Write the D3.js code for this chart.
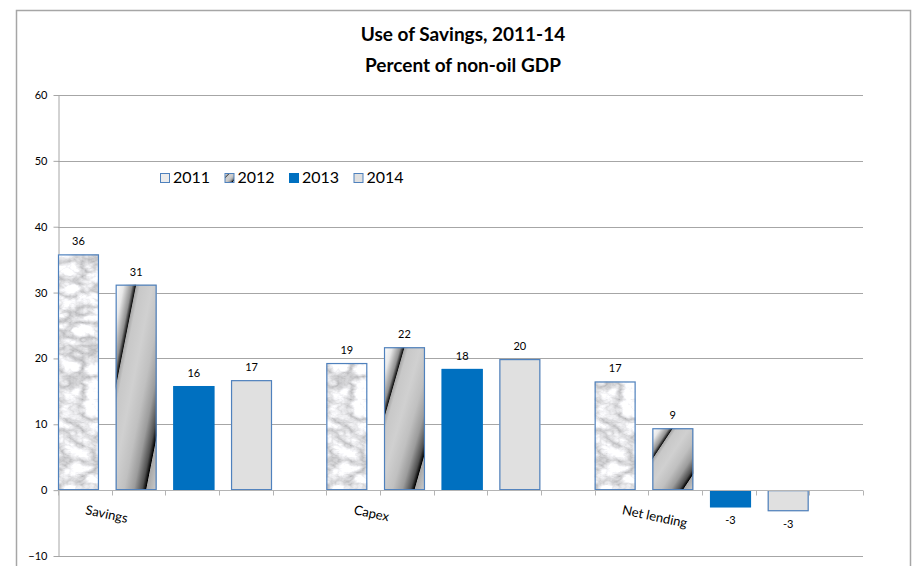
<!DOCTYPE html>
<html>
<head>
<meta charset="utf-8">
<script src="https://cdn.jsdelivr.net/npm/d3@7"></script>
<style>
  body { margin: 0; background: #fff; }
  svg { display: block; font-family: Lato, "Open Sans", sans-serif; }
</style>
</head>
<body>
<svg id="canvas" width="913" height="566"></svg>
<script>
let years = ['2011', '2012', '2013', '2014'];
let categories = ['Savings', 'Capex', 'Net lending'];
let values2011 = [35.8, 19.3, 16.5];
let values2012 = [31.2, 21.7, 9.4];
let values2013 = [15.8, 18.4, -2.6];
let values2014 = [16.7, 19.9, -3.2];
let yTicks = [-10, 0, 10, 20, 30, 40, 50, 60];

let series = [values2011, values2012, values2013, values2014];

let canvas = d3.select('#canvas');
let defs = canvas.append('defs');

// marble look for 2011
let marble = defs.append('filter')
    .attr('id', 'marble')
    .attr('x', 0).attr('y', 0).attr('width', 1).attr('height', 1)
    .attr('color-interpolation-filters', 'sRGB');
marble.append('feTurbulence')
    .attr('type', 'turbulence')
    .attr('baseFrequency', '0.04 0.065')
    .attr('numOctaves', 4)
    .attr('seed', 3)
    .attr('result', 'noise');
marble.append('feColorMatrix')
    .attr('in', 'noise')
    .attr('type', 'matrix')
    .attr('values', '0.6 0 0 0 0.71  0.6 0 0 0 0.71  0.6 0 0 0 0.72  0 0 0 0 1')
    .attr('result', 'grey');
marble.append('feComposite')
    .attr('in', 'grey')
    .attr('in2', 'SourceGraphic')
    .attr('operator', 'in');

// stretched diagonal gradient for 2012
let stripes = defs.append('linearGradient')
    .attr('id', 'stripes')
    .attr('x1', 0).attr('y1', 0).attr('x2', 1).attr('y2', 1);
[[0, '#ffffff'], [0.1, '#e8e8e8'], [0.2, '#909090'], [0.245, '#101010'],
 [0.255, '#a8a8a8'], [0.3, '#c8c8c8'], [0.45, '#d0d0d0'], [0.6, '#c0c0c0'],
 [0.72, '#9c9c9c'], [0.82, '#505050'], [0.865, '#000000'], [0.875, '#a8a8a8'],
 [1, '#cccccc']].forEach(s => {
    stripes.append('stop').attr('offset', s[0]).attr('stop-color', s[1]);
});

let fills = ['#ffffff', 'url(#stripes)', '#0070c0', '#e0e0e0'];
let borders = ['#4f81bd', '#4f81bd', '#0070c0', '#4f81bd'];

// outer frame
canvas.append('path')
    .attr('d', 'M16.5,570 V10.5 H910.5 V570')
    .attr('fill', 'none')
    .attr('stroke', '#a6a6a6')
    .attr('stroke-width', 1.5);

let left = 58, right = 863;

let yScale = d3.scaleLinear().domain([-10, 60]).range([556, 95]);

// 5 slots per category on the axis
let slots = d3.scaleBand()
    .domain(d3.range(categories.length * 5))
    .range([left, right]);

let inner = d3.scaleBand()
    .domain(years)
    .range([0, 214])
    .paddingInner(0.29)
    .paddingOuter(0);

// gridlines
canvas.append('g')
    .selectAll('line')
    .data(yTicks.filter(t => t !== 0))
    .enter()
    .append('line')
    .attr('x1', left).attr('x2', right)
    .attr('y1', t => Math.round(yScale(t)) + 0.5)
    .attr('y2', t => Math.round(yScale(t)) + 0.5)
    .attr('stroke', '#a6a6a6');

// y axis
let yAxis = d3.axisLeft(yScale).tickValues(yTicks).tickSize(5).tickSizeOuter(0);
let yAxisG = canvas.append('g')
    .attr('transform', 'translate(' + (left + 0.5) + ',0)')
    .call(yAxis);
yAxisG.select('.domain').attr('stroke', '#a6a6a6');
yAxisG.selectAll('.tick line').attr('stroke', '#a6a6a6');
yAxisG.selectAll('.tick text')
    .attr('x', -11)
    .style('font-family', 'Lato')
    .style('font-size', '11px')
    .attr('fill', '#000');

// bars
let groups = canvas.append('g')
    .selectAll('g')
    .data(categories)
    .enter()
    .append('g')
    .attr('transform', (c, i) => 'translate(' + slots(i * 5) + ',0)');

let bars = groups.selectAll('g')
    .data((c, i) => years.map((yr, j) => ({ year: yr, idx: j, value: series[j][i] })))
    .enter()
    .append('g');

bars.append('rect')
    .attr('x', d => inner(d.year))
    .attr('y', d => yScale(Math.max(0, d.value)))
    .attr('width', inner.bandwidth())
    .attr('height', d => Math.abs(yScale(d.value) - yScale(0)))
    .attr('fill', d => fills[d.idx])
    .attr('filter', d => d.idx === 0 ? 'url(#marble)' : null);

bars.append('rect')
    .attr('x', d => inner(d.year) + 0.5)
    .attr('y', d => yScale(Math.max(0, d.value)) + 0.5)
    .attr('width', inner.bandwidth() - 1)
    .attr('height', d => Math.abs(yScale(d.value) - yScale(0)) - 1)
    .attr('fill', 'none')
    .attr('stroke', d => borders[d.idx])
    .attr('stroke-width', 1.2);

bars.append('text')
    .attr('x', d => inner(d.year) + inner.bandwidth() / 2)
    .attr('y', d => d.value >= 0 ? yScale(d.value) - 9 : yScale(d.value) + 17)
    .attr('text-anchor', 'middle')
    .style('font-size', '11px')
    .text(d => Math.round(d.value));

// x axis line with slot ticks
let xAxisY = Math.round(yScale(0)) + 0.5;
canvas.append('line')
    .attr('x1', left).attr('x2', right)
    .attr('y1', xAxisY).attr('y2', xAxisY)
    .attr('stroke', '#b4b4b4');
canvas.append('g')
    .selectAll('line')
    .data(d3.range(categories.length * 5 + 1))
    .enter()
    .append('line')
    .attr('x1', i => Math.round(left + i * slots.step()) + 0.5)
    .attr('x2', i => Math.round(left + i * slots.step()) + 0.5)
    .attr('y1', xAxisY).attr('y2', xAxisY + 5)
    .attr('stroke', '#b4b4b4');

// category labels
canvas.append('g')
    .selectAll('text')
    .data(categories)
    .enter()
    .append('text')
    .attr('transform', (c, i) => 'translate(' + (slots(i * 5) + slots.bandwidth() / 2) + ',514) rotate(12)')
    .style('font-size', '13px')
    .text(c => c);

// legend
let legend = canvas.append('g')
    .selectAll('g')
    .data(years)
    .enter()
    .append('g')
    .attr('transform', (yr, i) => 'translate(' + (160 + i * 64.5) + ',173)');
legend.append('rect')
    .attr('x', 0.5).attr('y', 0.5)
    .attr('width', 9).attr('height', 9)
    .attr('fill', (yr, i) => i === 0 ? '#ececec' : fills[i])
    .attr('stroke', (yr, i) => borders[i]);
legend.append('text')
    .attr('x', 13)
    .attr('y', 10)
    .style('font-size', '16px')
    .text(yr => yr);

// title
let title = canvas.append('text')
    .attr('text-anchor', 'middle')
    .style('font-size', '19px')
    .style('font-weight', 'bold');
title.append('tspan').attr('x', 463).attr('y', 41).text('Use of Savings, 2011-14');
title.append('tspan').attr('x', 463).attr('y', 72).text('Percent of non-oil GDP');
</script>
</body>
</html>
